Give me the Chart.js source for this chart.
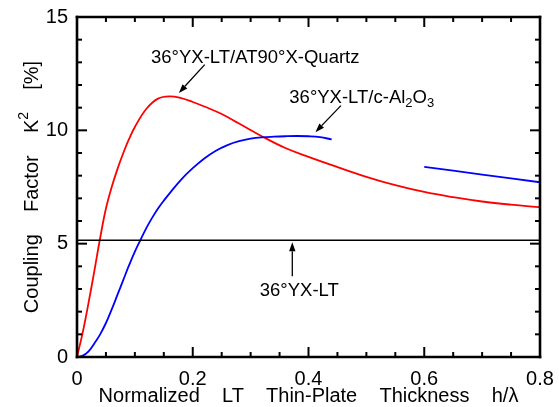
<!DOCTYPE html>
<html>
<head>
<meta charset="utf-8">
<script src="https://cdn.jsdelivr.net/npm/chart.js@4.4.1/dist/chart.umd.min.js"></script>
<style>
  html, body { margin: 0; padding: 0; background: #fff; }
</style>
</head>
<body>
<canvas id="chart" width="559" height="407"></canvas>
<script>
// 36°YX-LT/AT90°X-Quartz (red)
const redX = [0, 0.01, 0.02, 0.03, 0.04, 0.05, 0.06, 0.07, 0.08, 0.09, 0.1, 0.12, 0.14, 0.16, 0.18, 0.2, 0.22, 0.25, 0.28, 0.32, 0.36, 0.4, 0.45, 0.5, 0.55, 0.6, 0.65, 0.7, 0.75, 0.8];
const redY = [0, 1.1, 2.4, 3.8, 5.25, 6.55, 7.5, 8.3, 9.0, 9.62, 10.15, 10.95, 11.4, 11.5, 11.42, 11.25, 11.05, 10.72, 10.3, 9.73, 9.22, 8.83, 8.38, 7.95, 7.58, 7.28, 7.05, 6.86, 6.72, 6.61];

// 36°YX-LT/c-Al2O3 (blue), two pieces
const blueX = [0, 0.01, 0.02, 0.03, 0.04, 0.05, 0.06, 0.07, 0.08, 0.09, 0.1, 0.11, 0.12, 0.13, 0.14, 0.15, 0.16, 0.18, 0.2, 0.22, 0.24, 0.26, 0.28, 0.3, 0.32, 0.34, 0.36, 0.38, 0.4, 0.42, 0.44];
const blueY = [0, 0.06, 0.25, 0.6, 1.0, 1.5, 2.1, 2.75, 3.4, 4.05, 4.65, 5.18, 5.7, 6.15, 6.55, 6.9, 7.22, 7.83, 8.33, 8.76, 9.1, 9.35, 9.52, 9.63, 9.69, 9.72, 9.74, 9.75, 9.74, 9.7, 9.6];
const blue2X = [0.6, 0.7, 0.8];
const blue2Y = [8.39, 8.05, 7.71];

// 36°YX-LT reference level (black)
const ltX = [0, 0.8];
const ltY = [5.15, 5.15];

// axis range and tick steps
const xRange = [0, 0.8];
const yRange = [0, 15];
const xStep = 0.2, xMinor = 0.05;
const yStep = 5, yMinor = 1;

const FONT = '"Liberation Sans", Arial, sans-serif';
const toPoints = (xs, ys) => xs.map((x, i) => ({ x: x, y: ys[i] }));

// labels with arrows, placed in data units
const notes = [
  { parts: [['36°YX-LT/AT90°X-Quartz']], x: 0.308, y: 13.21, from: [0.2207, 12.9], to: [0.176, 11.65] },
  { parts: [['36°YX-LT/c-Al'], ['2', 'sub'], ['O'], ['3', 'sub']], x: 0.492, y: 11.45, from: [0.456, 11.09], to: [0.412, 9.92] },
  { parts: [['36°YX-LT']], x: 0.384, y: 2.9, from: [0.372, 3.56], to: [0.372, 5.06] },
];

const drawParts = (ctx, parts, cx, cy, size) => {
  const big = size + 'px ' + FONT;
  const small = Math.round(size * 0.7) + 'px ' + FONT;
  let w = 0;
  parts.forEach(p => { ctx.font = p[1] ? small : big; w += ctx.measureText(p[0]).width; });
  let x = cx - w / 2;
  ctx.textAlign = 'left';
  ctx.textBaseline = 'middle';
  parts.forEach(p => {
    ctx.font = p[1] ? small : big;
    const dy = p[1] === 'sub' ? size * 0.3 : p[1] === 'sup' ? -size * 0.38 : 0;
    ctx.fillText(p[0], x, cy + dy);
    x += ctx.measureText(p[0]).width;
  });
};

const rectPath = (ctx, x, y, w, h) => {
  ctx.beginPath();
  ctx.moveTo(x, y);
  ctx.lineTo(x + w, y);
  ctx.lineTo(x + w, y + h);
  ctx.lineTo(x, y + h);
  ctx.closePath();
  ctx.fill();
};

const decor = {
  id: 'decor',
  afterDatasetsDraw(chart) {
    const ctx = chart.ctx;
    const x = chart.scales.x, y = chart.scales.y;
    const L = x.getPixelForValue(xRange[0]), R = x.getPixelForValue(xRange[1]);
    ctx.save();
    ctx.strokeStyle = '#000';
    ctx.fillStyle = '#000';

    notes.forEach(n => {
      drawParts(ctx, n.parts, x.getPixelForValue(n.x), y.getPixelForValue(n.y), 18.5);
      const x1 = x.getPixelForValue(n.from[0]), y1 = y.getPixelForValue(n.from[1]);
      const x2 = x.getPixelForValue(n.to[0]), y2 = y.getPixelForValue(n.to[1]);
      const ang = Math.atan2(y2 - y1, x2 - x1);
      const hl = 9, hw = 3.2;
      ctx.lineWidth = 1.3;
      ctx.beginPath();
      ctx.moveTo(x1, y1);
      ctx.lineTo(x2 - hl * Math.cos(ang), y2 - hl * Math.sin(ang));
      ctx.stroke();
      ctx.beginPath();
      ctx.moveTo(x2, y2);
      ctx.lineTo(x2 - hl * Math.cos(ang) + hw * Math.sin(ang), y2 - hl * Math.sin(ang) - hw * Math.cos(ang));
      ctx.lineTo(x2 - hl * Math.cos(ang) - hw * Math.sin(ang), y2 - hl * Math.sin(ang) + hw * Math.cos(ang));
      ctx.closePath();
      ctx.fill();
    });

    // x axis title
    drawParts(ctx, [['Normalized    LT    Thin-Plate    Thickness    h/λ']], (L + R) / 2, 396, 20);
    ctx.restore();
  },
  afterDraw(chart) {
    const ctx = chart.ctx;
    const x = chart.scales.x, y = chart.scales.y;
    const L = x.getPixelForValue(xRange[0]), R = x.getPixelForValue(xRange[1]);
    const B = y.getPixelForValue(yRange[0]), T = y.getPixelForValue(yRange[1]);
    ctx.save();
    ctx.fillStyle = '#000';

    // inward ticks on all four sides, major and minor
    const tw = 2, bw = 2.6;
    const nx = Math.round((xRange[1] - xRange[0]) / xMinor);
    const perX = Math.round(xStep / xMinor);
    for (let i = 0; i <= nx; i++) {
      const px = x.getPixelForValue(xRange[0] + i * xMinor);
      const len = i % perX === 0 ? 10 : 5;
      rectPath(ctx, px - tw / 2, B - len, tw, len);
      rectPath(ctx, px - tw / 2, T, tw, len);
    }
    const ny = Math.round((yRange[1] - yRange[0]) / yMinor);
    const perY = Math.round(yStep / yMinor);
    for (let i = 0; i <= ny; i++) {
      const py = y.getPixelForValue(yRange[0] + i * yMinor);
      const len = i % perY === 0 ? 10 : 5;
      rectPath(ctx, L, py - tw / 2, len, tw);
      rectPath(ctx, R - len, py - tw / 2, len, tw);
    }

    // box
    rectPath(ctx, L - bw / 2, T - bw / 2, R - L + bw, bw);
    rectPath(ctx, L - bw / 2, B - bw / 2, R - L + bw, bw);
    rectPath(ctx, L - bw / 2, T - bw / 2, bw, B - T + bw);
    rectPath(ctx, R - bw / 2, T - bw / 2, bw, B - T + bw);

    // y axis title with superscript
    ctx.translate(32, (T + B) / 2);
    ctx.rotate(-Math.PI / 2);
    drawParts(ctx, [['Coupling    Factor    K'], ['2', 'sup'], ['    [%]']], 0, 0, 20);
    ctx.restore();
  }
};

const lineStyle = (color, width) => ({
  borderColor: color,
  borderWidth: width,
  pointRadius: 0,
  showLine: true,
  fill: false,
  tension: 0.4,
});

new Chart(document.getElementById('chart').getContext('2d'), {
  type: 'scatter',
  data: {
    datasets: [
      { data: toPoints(ltX, ltY), ...lineStyle('#000', 1.6) },
      { data: toPoints(blueX, blueY), ...lineStyle('#0000ff', 1.8) },
      { data: toPoints(blue2X, blue2Y), ...lineStyle('#0000ff', 1.8) },
      { data: toPoints(redX, redY), ...lineStyle('#ff0000', 1.8) },
    ],
  },
  options: {
    responsive: false,
    animation: false,
    layout: { padding: { top: 17, right: 19, left: 0, bottom: 0 } },
    plugins: { legend: { display: false }, tooltip: { enabled: false } },
    scales: {
      x: {
        type: 'linear',
        min: xRange[0],
        max: xRange[1],
        afterFit: s => { s.height = 50; },
        grid: { display: false },
        border: { display: false },
        ticks: {
          stepSize: xStep,
          color: '#000',
          font: { family: FONT, size: 20 },
          padding: 2,
          maxRotation: 0,
        },
      },
      y: {
        type: 'linear',
        min: yRange[0],
        max: yRange[1],
        afterFit: s => { s.width = 77; },
        grid: { display: false },
        border: { display: false },
        ticks: {
          stepSize: yStep,
          color: '#000',
          font: { family: FONT, size: 20 },
          padding: 1,
        },
      },
    },
  },
  plugins: [decor],
});
</script>
</body>
</html>
